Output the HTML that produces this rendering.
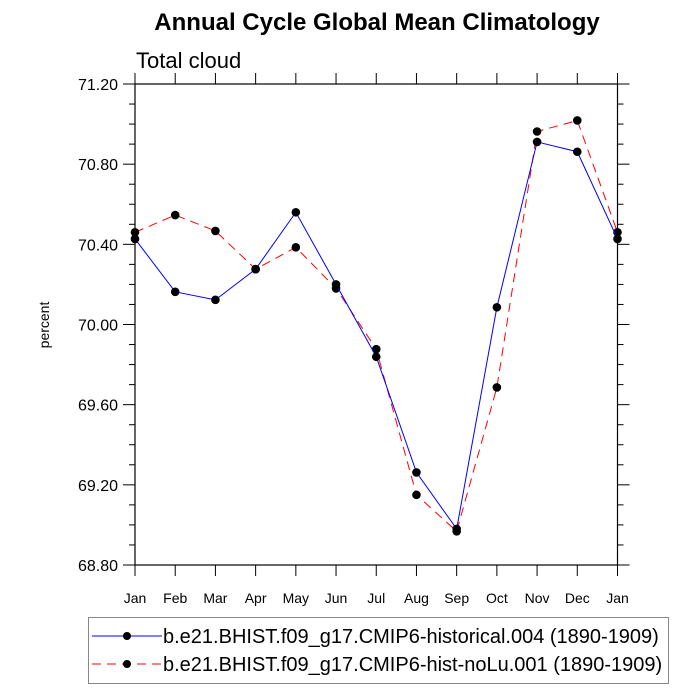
<!DOCTYPE html>
<html><head><meta charset="utf-8"><style>
body{margin:0;background:#fff;}
svg{display:block;font-family:"Liberation Sans",sans-serif;}
</style></head><body>
<svg id="chart" width="700" height="700">
<text x="377" y="30" text-anchor="middle" font-size="24" font-weight="bold">Annual Cycle Global Mean Climatology</text>
<text x="136" y="68" font-size="22">Total cloud</text>
<text transform="translate(49,325) rotate(-90)" text-anchor="middle" font-size="14">percent</text>
<g id="axes"></g>
<g id="series"></g>
<g>
<rect x="88.5" y="617.5" width="580" height="66" fill="none" stroke="#888" stroke-width="1"/>
<g>
<line x1="92" y1="636" x2="162" y2="636" stroke="#0000ff" stroke-width="1"/>
<circle cx="127" cy="636" r="4" fill="#000"/>
<text x="163" y="643" font-size="20">b.e21.BHIST.f09_g17.CMIP6-historical.004 (1890-1909)</text>
</g>
<g>
<line x1="92" y1="664" x2="162" y2="664" stroke="#ff0000" stroke-width="1" stroke-dasharray="9,6"/>
<circle cx="127" cy="664" r="4" fill="#000"/>
<text x="163" y="671" font-size="20">b.e21.BHIST.f09_g17.CMIP6-hist-noLu.001 (1890-1909)</text>
</g>
</g>
</svg>
<script>
const months = ["Jan","Feb","Mar","Apr","May","Jun","Jul","Aug","Sep","Oct","Nov","Dec","Jan"];
const historical = [70.427,70.163,70.123,70.276,70.56,70.2,69.839,69.262,68.98,70.086,70.911,70.862,70.427];
const histNoLu = [70.46,70.546,70.467,70.276,70.385,70.18,69.877,69.15,68.968,69.686,70.963,71.018,70.46];
const yTicks = [68.8,69.2,69.6,70.0,70.4,70.8,71.2];
const yTickLabels = ["68.80","69.20","69.60","70.00","70.40","70.80","71.20"];

const L=135,R=617.5,T=84,B=565,ymin=68.8,ymax=71.2;
const ns="http://www.w3.org/2000/svg";
function X(i){return L+(R-L)*i/(months.length-1);}
function Y(v){return B-(v-ymin)/(ymax-ymin)*(B-T);}
function mk(tag,attrs,parent){const e=document.createElementNS(ns,tag);for(const k in attrs)e.setAttribute(k,attrs[k]);parent.appendChild(e);return e;}
const axes=document.getElementById('axes');
const frame=mk('rect',{x:L,y:T,width:R-L,height:B-T,fill:'none',stroke:'#000','stroke-width':1.2},axes);


months.forEach((m,i)=>{
  const x=X(i);
  mk('line',{x1:x,y1:B,x2:x,y2:B+11,stroke:'#000'},axes);
  mk('line',{x1:x,y1:T,x2:x,y2:T-11,stroke:'#000'},axes);
  const t=mk('text',{x:x,y:603,'text-anchor':'middle','font-size':14},axes);
  t.textContent=m;
  
  
});
for(let k=0;k<yTicks.length;k++){
  const y=Y(yTicks[k]);
  mk('line',{x1:L-12,y1:y,x2:L,y2:y,stroke:'#000'},axes);
  mk('line',{x1:R,y1:y,x2:R+12,y2:y,stroke:'#000'},axes);
  const t=mk('text',{x:118,y:y+6,'text-anchor':'end','font-size':16},axes);
  t.textContent=yTickLabels[k];
  
  
  if(k<yTicks.length-1){
    for(let j=1;j<4;j++){
      const ym=Y(yTicks[k]+(yTicks[k+1]-yTicks[k])*j/4);
      mk('line',{x1:L-6,y1:ym,x2:L,y2:ym,stroke:'#000'},axes);
      mk('line',{x1:R,y1:ym,x2:R+6,y2:ym,stroke:'#000'},axes);
    }
  }
}
const series=document.getElementById('series');
function draw(vals,color,dash,name){
  const g=mk('g',{},series);
  
  
  const pts=vals.map((v,i)=>X(i)+','+Y(v)).join(' ');
  const a={points:pts,fill:'none',stroke:color,'stroke-width':1};
  if(dash)a['stroke-dasharray']=dash;
  mk('polyline',a,g);
  vals.forEach((v,i)=>{
    const c=mk('circle',{cx:X(i),cy:Y(v),r:4.3,fill:'#000'},g);
    
    
  });
}
draw(histNoLu,'#ff0000','9,6','series-hist-nolu');
draw(historical,'#0000ff',null,'series-historical');
</script>
</body></html>
